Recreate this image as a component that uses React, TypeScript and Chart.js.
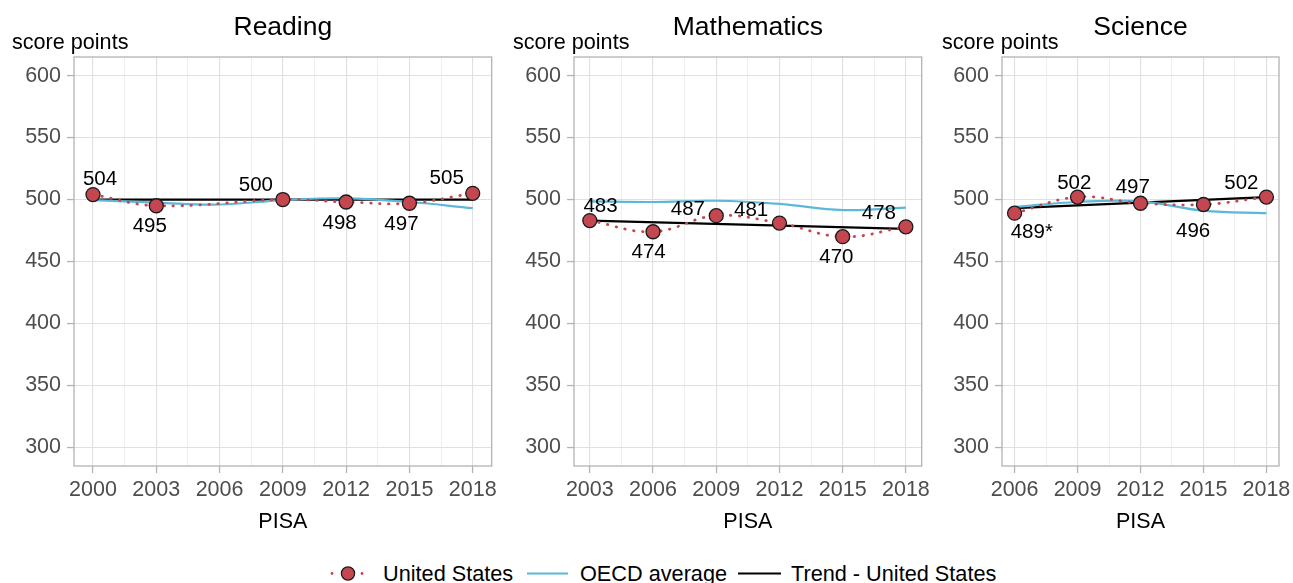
import React, { useEffect, useRef } from 'react';
import { Chart, registerables } from 'chart.js';

Chart.register(...registerables);

const FONT = '"Liberation Sans", Arial, Helvetica, sans-serif';
const RED = '#c4464f';
const BLUE = '#5bb8d8';
const BLACK = '#000000';
const GRID_MAJOR = '#e0e0e0';
const GRID_MINOR = '#ebebeb';
const FRAME = '#b3b3b3';
const TICK_TEXT = '#4d4d4d';

// ---------- data ----------
const yTicks = [300, 350, 400, 450, 500, 550, 600];

const readingYears = [2000, 2003, 2006, 2009, 2012, 2015, 2018];
const readingUS = [504, 495, null, 500, 498, 497, 505];
const readingOECD = [499.5, 497.5, 496, 499.5, 501, 498, 493];
const readingTrendYears = [2000, 2018];
const readingTrend = [500, 500];
const readingLabels = ['504', '495', '', '500', '498', '497', '505'];

const mathYears = [2003, 2006, 2009, 2012, 2015, 2018];
const mathUS = [483, 474, 487, 481, 470, 478];
const mathOECD = [498.5, 498, 499, 496.5, 491.5, 493.5];
const mathTrendYears = [2003, 2018];
const mathTrend = [482.9, 476.4];
const mathLabels = ['483', '474', '487', '481', '470', '478'];

const scienceYears = [2006, 2009, 2012, 2015, 2018];
const scienceUS = [489, 502, 497, 496, 502];
const scienceOECD = [494, 498, 498.5, 491, 489];
const scienceTrendYears = [2006, 2018];
const scienceTrend = [493, 502];
const scienceLabels = ['489*', '502', '497', '496', '502'];

// label placement (offset of label centre from its point, in px)
const readingLabelPlace = [[7, -16.5], [-6.5, 18.5], [0, 0], [-27, -16], [-6.5, 19.3], [-8, 19.7], [-26, -16.5]];
const mathLabelPlace = [[10.7, -16], [-4.4, 19], [-28.4, -7.6], [-28.3, -13.9], [-6.3, 19], [-27, -15]];
const scienceLabelPlace = [[17.2, 18], [-3.3, -15.8], [-7.7, -17.2], [-10.3, 25.2], [-25, -15.2]];

type PanelDef = {
  title: string;
  left: number;
  width: number;
  areaLeft: number;
  areaRight: number;
  scoreX: number;
  years: number[];
  us: (number | null)[];
  oecd: number[];
  trendYears: number[];
  trend: number[];
  labels: string[];
  place: number[][];
};

const panels: PanelDef[] = [
  {
    title: 'Reading', left: 0, width: 500, areaLeft: 74, areaRight: 493, scoreX: 12,
    years: readingYears, us: readingUS, oecd: readingOECD,
    trendYears: readingTrendYears, trend: readingTrend,
    labels: readingLabels, place: readingLabelPlace,
  },
  {
    title: 'Mathematics', left: 500, width: 430, areaLeft: 74, areaRight: 422, scoreX: 13,
    years: mathYears, us: mathUS, oecd: mathOECD,
    trendYears: mathTrendYears, trend: mathTrend,
    labels: mathLabels, place: mathLabelPlace,
  },
  {
    title: 'Science', left: 930, width: 363, areaLeft: 72, areaRight: 349, scoreX: 12,
    years: scienceYears, us: scienceUS, oecd: scienceOECD,
    trendYears: scienceTrendYears, trend: scienceTrend,
    labels: scienceLabels, place: scienceLabelPlace,
  },
];

const CANVAS_H = 540;
const AREA_TOP = 57;
const AREA_BOTTOM = 466;

function PanelChart({ p }: { p: PanelDef }) {
  const ref = useRef<HTMLCanvasElement | null>(null);

  useEffect(() => {
    if (!ref.current) return;
    const first = p.years[0];
    const last = p.years[p.years.length - 1];
    const span = last - first;
    const xMin = first - 0.05 * span;
    const xMax = last + 0.05 * span;
    const xTickVals: number[] = [];
    p.years.forEach((y, i) => {
      xTickVals.push(y);
      if (i < p.years.length - 1) xTickVals.push((y + p.years[i + 1]) / 2);
    });
    const isMajor = (v: number) => p.years.includes(v);

    const decor = {
      id: 'decor',
      afterDatasetsDraw(chart: any) {
        const ctx = chart.ctx;
        const meta = chart.getDatasetMeta(0);
        ctx.save();
        ctx.font = `20.5px ${FONT}`;
        ctx.fillStyle = '#000';
        ctx.textAlign = 'center';
        ctx.textBaseline = 'alphabetic';
        p.labels.forEach((t, i) => {
          if (!t || p.us[i] == null) return;
          const el = meta.data[i];
          if (!el) return;
          const [dx, dy] = p.place[i];
          ctx.fillText(t, el.x + dx, el.y + dy + 7.3);
        });
        ctx.restore();
      },
      afterDraw(chart: any) {
        const ctx = chart.ctx;
        const a = chart.chartArea;
        ctx.save();
        ctx.strokeStyle = FRAME;
        ctx.lineWidth = 1.3;
        ctx.strokeRect(a.left, a.top, a.right - a.left, a.bottom - a.top);
        const cx = (a.left + a.right) / 2;
        ctx.fillStyle = '#000';
        ctx.textBaseline = 'alphabetic';
        ctx.textAlign = 'center';
        ctx.font = `26.5px ${FONT}`;
        ctx.fillText(p.title, cx, 35);
        ctx.font = `21.5px ${FONT}`;
        ctx.fillText('PISA', cx, 528);
        ctx.textAlign = 'left';
        ctx.font = `21.6px ${FONT}`;
        ctx.fillText('score points', p.scoreX, 49);
        ctx.restore();
      },
    };

    const chart = new Chart(ref.current, {
      type: 'line',
      data: {
        datasets: [
          {
            label: 'United States',
            data: p.years.map((x, i) => ({ x, y: p.us[i] })) as any,
            borderColor: RED,
            borderWidth: 2.8,
            borderDash: [0.5, 8.5],
            borderCapStyle: 'round',
            tension: 0.4,
            spanGaps: true,
            pointRadius: 7,
            pointBorderWidth: 1.3,
            pointBorderColor: '#1a1a1a',
            pointBackgroundColor: RED,
            clip: false as any,
          },
          {
            label: 'OECD average',
            data: p.years.map((x, i) => ({ x, y: p.oecd[i] })) as any,
            borderColor: BLUE,
            borderWidth: 2.2,
            tension: 0.4,
            pointRadius: 0,
          },
          {
            label: 'Trend - United States',
            data: p.trendYears.map((x, i) => ({ x, y: p.trend[i] })) as any,
            borderColor: BLACK,
            borderWidth: 2.2,
            tension: 0,
            pointRadius: 0,
          },
        ],
      },
      options: {
        animation: false,
        responsive: false,
        maintainAspectRatio: false,
        events: [],
        layout: {
          padding: { left: 0, right: p.width - p.areaRight, top: AREA_TOP, bottom: 0 },
        },
        plugins: {
          legend: { display: false },
          tooltip: { enabled: false },
          title: { display: false },
        },
        scales: {
          x: {
            type: 'linear',
            min: xMin,
            max: xMax,
            afterBuildTicks: (s: any) => {
              s.ticks = xTickVals.map((v) => ({ value: v }));
            },
            afterFit: (s: any) => {
              s.height = CANVAS_H - AREA_BOTTOM;
              s.paddingLeft = 0;
              s.paddingRight = 0;
            },
            border: { display: false },
            grid: {
              color: (c: any) => (c.tick && isMajor(c.tick.value) ? GRID_MAJOR : GRID_MINOR),
              lineWidth: (c: any) => (c.tick && isMajor(c.tick.value) ? 1.1 : 0.8),
              tickLength: 7,
              tickColor: (c: any) => (c.tick && isMajor(c.tick.value) ? FRAME : 'rgba(0,0,0,0)'),
              tickWidth: 1.3,
            },
            ticks: {
              autoSkip: false,
              maxRotation: 0,
              padding: 4,
              color: TICK_TEXT,
              font: { family: FONT, size: 21.5 },
              callback: (v: any) => (isMajor(Number(v)) ? String(v) : ''),
            },
          },
          y: {
            type: 'linear',
            min: 285,
            max: 615,
            afterBuildTicks: (s: any) => {
              s.ticks = yTicks.map((v) => ({ value: v }));
            },
            afterFit: (s: any) => {
              s.width = p.areaLeft;
              s.paddingTop = 0;
              s.paddingBottom = 0;
            },
            border: { display: false },
            grid: {
              color: GRID_MAJOR,
              lineWidth: 1.1,
              tickLength: 7,
              tickColor: FRAME,
              tickWidth: 1.3,
            },
            ticks: {
              padding: 6,
              color: TICK_TEXT,
              font: { family: FONT, size: 21.5 },
              callback: (v: any) => String(v),
            },
          },
        },
      } as any,
      plugins: [decor],
    });
    return () => chart.destroy();
  }, [p]);

  return (
    <canvas
      ref={ref}
      width={p.width}
      height={CANVAS_H}
      style={{ position: 'absolute', left: p.left, top: 0, width: p.width, height: CANVAS_H }}
    />
  );
}

function Legend() {
  const ty = 30.5;
  const my = 23.5;
  const textStyle: React.CSSProperties = { fontFamily: FONT, fontSize: 21.7 };
  return (
    <svg
      width={1293}
      height={33}
      style={{ position: 'absolute', left: 0, top: 550, overflow: 'visible' }}
    >
      <circle cx={332} cy={my} r={1.4} fill={RED} />
      <circle cx={362} cy={my} r={1.4} fill={RED} />
      <circle cx={348} cy={my} r={6.6} fill={RED} stroke="#1a1a1a" strokeWidth={1.3} />
      <text x={383} y={ty} fill="#000" style={textStyle}>United States</text>
      <line x1={527} x2={568} y1={my} y2={my} stroke={BLUE} strokeWidth={2.2} />
      <text x={580} y={ty} fill="#000" style={textStyle}>OECD average</text>
      <line x1={738} x2={781} y1={my} y2={my} stroke={BLACK} strokeWidth={2.2} />
      <text x={791} y={ty} fill="#000" style={textStyle}>Trend - United States</text>
    </svg>
  );
}

export default function App() {
  return (
    <div
      style={{
        position: 'absolute',
        left: 0,
        top: 0,
        width: 1293,
        height: 583,
        background: '#ffffff',
        overflow: 'hidden',
      }}
    >
      {panels.map((p) => (
        <PanelChart key={p.title} p={p} />
      ))}
      <Legend />
    </div>
  );
}
